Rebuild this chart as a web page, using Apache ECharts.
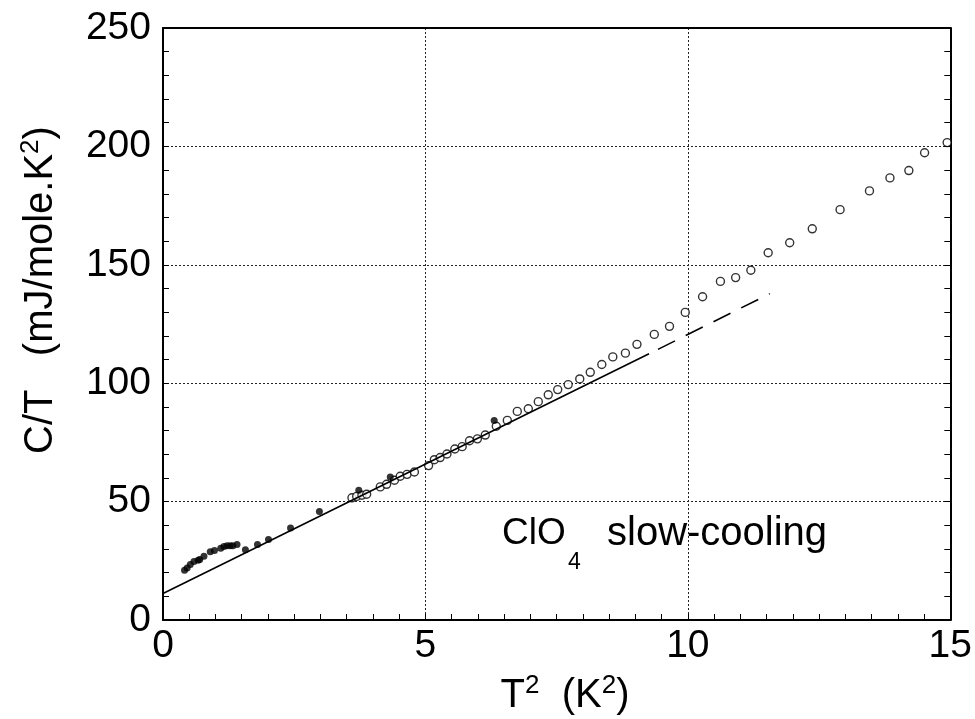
<!DOCTYPE html>
<html>
<head>
<meta charset="utf-8">
<script src="https://cdn.jsdelivr.net/npm/echarts@6/dist/echarts.min.js"></script>
<style>
html,body{margin:0;padding:0;background:#fff;}
#chart{width:975px;height:719px;}
</style>
</head>
<body>
<div id="chart"></div>
<script>
// Filled dots (T^2, C/T)
const filledX = [0.41,0.46,0.52,0.59,0.67,0.70,0.78,0.90,0.98,1.10,1.16,1.22,1.28,1.33,1.41,1.57,1.80,2.01,2.43,2.98,3.73,4.33,6.31];
const filledY = [21.0,22.0,23.4,24.7,25.2,25.5,26.9,28.8,29.3,30.3,31.0,31.4,31.4,31.4,31.9,29.7,31.9,34.0,38.9,45.8,54.8,60.4,84.2];
// Open circles
const openX = [3.60,3.69,3.79,3.88,4.14,4.26,4.41,4.52,4.65,4.79,5.06,5.17,5.28,5.41,5.56,5.70,5.84,5.99,6.14,6.35,6.56,6.75,6.96,7.15,7.34,7.52,7.72,7.94,8.14,8.36,8.57,8.81,9.03,9.36,9.65,9.95,10.28,10.62,10.91,11.20,11.53,11.94,12.37,12.90,13.46,13.85,14.21,14.51,14.94];
const openY = [51.6,52.2,52.7,53.1,56.2,57.3,59.0,60.7,61.5,62.5,65.2,67.7,68.6,70.1,72.2,73.2,75.7,76.5,78.1,81.8,84.3,88.1,89.2,92.2,95.1,97.3,99.4,101.8,104.6,107.9,111.1,112.7,116.4,120.6,124.0,129.9,136.5,143.0,144.6,147.7,155.1,159.3,165.2,173.3,181.2,186.7,189.8,197.3,201.6];
// Fit line: solid part then dashed part
const fitSolidX = [0, 9.26];
const fitSolidY = [11.2, 112.4];
const fitDashX = [9.26, 11.56];
const fitDashY = [112.4, 137.8];
// Axis ticks
const xTicks = [0, 5, 10, 15];
const yTicks = [0, 50, 100, 150, 200, 250];

const zip = (a, b) => a.map((v, i) => [v, b[i]]);
const FONT = 'Liberation Sans';

const chart = echarts.init(document.getElementById('chart'), null, {renderer: 'canvas'});

const axisLine = {show: true, onZero: false, lineStyle: {color: '#000', width: 2}};
const tickStyle = {color: '#000', width: 1};

chart.setOption({
  animation: false,
  backgroundColor: '#fff',
  grid: {left: 163, right: 24, top: 28, bottom: 99, containLabel: false},
  xAxis: [{
    type: 'value', position: 'bottom',
    min: xTicks[0], max: xTicks[xTicks.length - 1], interval: 5,
    axisLine: axisLine,
    axisTick: {show: true, inside: true, length: 6, lineStyle: tickStyle},
    minorTick: {show: true, splitNumber: 10, length: 6, lineStyle: tickStyle},
    axisLabel: {show: true, margin: 7, color: '#000', fontSize: 39, fontFamily: FONT},
    splitLine: {show: true, lineStyle: {type: [2, 2], color: '#222', width: 1}}
  }, {
    type: 'value', position: 'top',
    min: xTicks[0], max: xTicks[xTicks.length - 1], interval: 5,
    axisLine: axisLine,
    axisTick: {show: false}, axisLabel: {show: false}, splitLine: {show: false}
  }],
  yAxis: [{
    type: 'value', position: 'left',
    min: yTicks[0], max: yTicks[yTicks.length - 1], interval: 50,
    axisLine: axisLine,
    axisTick: {show: true, inside: true, length: 6, lineStyle: tickStyle},
    minorTick: {show: true, splitNumber: 5, length: 6, lineStyle: tickStyle},
    axisLabel: {show: true, margin: 12, color: '#000', fontSize: 39, fontFamily: FONT},
    splitLine: {show: true, lineStyle: {type: [2, 2], color: '#222', width: 1}}
  }, {
    type: 'value', position: 'right',
    min: yTicks[0], max: yTicks[yTicks.length - 1], interval: 50,
    axisLine: axisLine,
    axisTick: {show: true, inside: true, length: 6, lineStyle: tickStyle},
    minorTick: {show: true, splitNumber: 5, length: 6, lineStyle: tickStyle},
    axisLabel: {show: false}, splitLine: {show: false}
  }],
  series: [{
    type: 'line', xAxisIndex: 0, yAxisIndex: 0,
    data: zip(fitSolidX, fitSolidY), showSymbol: false, symbol: 'none',
    lineStyle: {color: '#000', width: 1.6}
  }, {
    type: 'line', xAxisIndex: 0, yAxisIndex: 0,
    data: zip(fitDashX, fitDashY), showSymbol: false, symbol: 'none',
    lineStyle: {color: '#000', width: 1.6, type: [19, 12], dashOffset: -10}
  }, {
    type: 'scatter', xAxisIndex: 0, yAxisIndex: 0,
    data: zip(openX, openY), symbol: 'circle', symbolSize: 8,
    itemStyle: {color: '#fff', borderColor: '#000', borderWidth: 1.4}
  }, {
    type: 'scatter', xAxisIndex: 0, yAxisIndex: 0,
    data: zip(filledX, filledY), symbol: 'circle', symbolSize: 7,
    itemStyle: {color: '#000'}
  }],
  graphic: [{
    type: 'text', x: 41, y: 290, rotation: Math.PI / 2,
    style: {
      text: '{n|C/T   (mJ/mole.K}{s|2}{n|)}',
      align: 'center', verticalAlign: 'middle',
      rich: {
        n: {fontSize: 40, fontFamily: FONT, fill: '#000', lineHeight: 46},
        s: {fontSize: 26, fontFamily: FONT, fill: '#000', verticalAlign: 'top', lineHeight: 30}
      }
    }
  }, {
    type: 'text', x: 565, y: 696,
    style: {
      text: '{n|T}{s|2}{n|  (K}{s|2}{n|)}',
      align: 'center', verticalAlign: 'middle',
      rich: {
        n: {fontSize: 40, fontFamily: FONT, fill: '#000', lineHeight: 46},
        s: {fontSize: 26, fontFamily: FONT, fill: '#000', verticalAlign: 'top', lineHeight: 30}
      }
    }
  }, {
    type: 'text', x: 502, y: 534,
    style: {text: 'ClO', fontSize: 37, fontFamily: FONT, fill: '#000', align: 'left', verticalAlign: 'middle'}
  }, {
    type: 'text', x: 568, y: 563,
    style: {text: '4', fontSize: 23, fontFamily: FONT, fill: '#000', align: 'left', verticalAlign: 'middle'}
  }, {
    type: 'text', x: 607, y: 534,
    style: {text: 'slow-cooling', fontSize: 40, fontFamily: FONT, fill: '#000', align: 'left', verticalAlign: 'middle'}
  }]
});
</script>
</body>
</html>
